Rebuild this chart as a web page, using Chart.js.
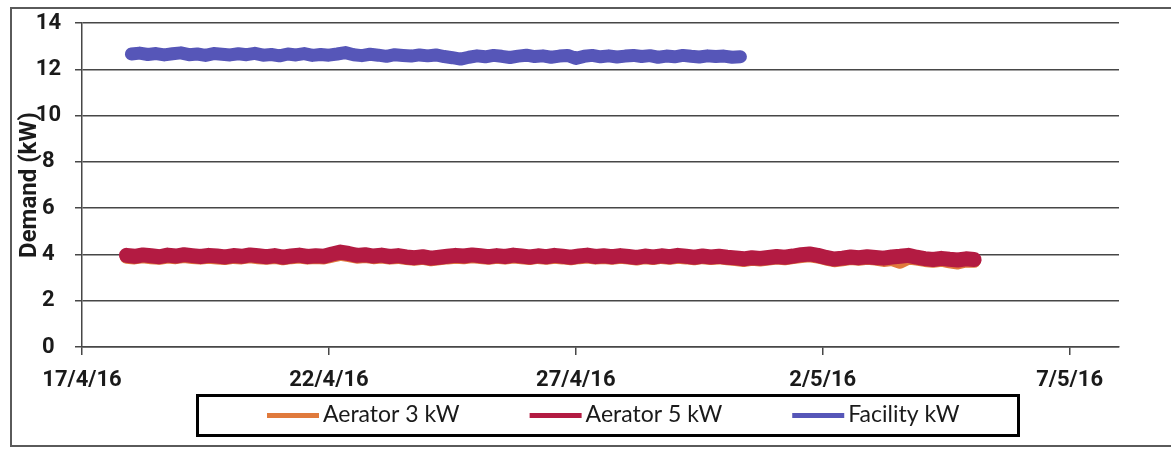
<!DOCTYPE html>
<html>
<head>
<meta charset="utf-8">
<style>
  html, body { margin: 0; padding: 0; background: #ffffff; }
  #wrap { width: 1171px; height: 450px; }
</style>
<script src="https://cdn.jsdelivr.net/npm/chart.js@4.4.1/dist/chart.umd.min.js"></script>
</head>
<body>
<div id="wrap"><canvas id="demand" width="1171" height="450"></canvas></div>
<script>
// Date axis: days counted from 17/4/16, major tick every 5 days
const AXIS_MIN_DAY = 0;
const AXIS_MAX_DAY = 21;
const tickDays = [0, 5, 10, 15, 20];
const tickLabels = ['17/4/16', '22/4/16', '27/4/16', '2/5/16', '7/5/16'];

// Samples every 4 hours (1/6 day)
const SAMPLE_STEP = 1 / 6;
const aeratorStartDay = 0.9;
const facilityStartDay = 1.0;

const aerator3kW = [
  3.88, 3.85, 3.90, 3.86, 3.83, 3.89, 3.86, 3.91, 3.87, 3.84, 3.88, 3.85,
  3.82, 3.87, 3.85, 3.90, 3.86, 3.83, 3.87, 3.81, 3.86, 3.89, 3.84, 3.87,
  3.85, 3.93, 4.00, 3.95, 3.88, 3.91, 3.86, 3.89, 3.84, 3.87, 3.82, 3.79,
  3.83, 3.77, 3.81, 3.85, 3.88, 3.86, 3.90, 3.87, 3.83, 3.88, 3.84, 3.89,
  3.86, 3.82, 3.87, 3.83, 3.88, 3.85, 3.81, 3.86, 3.89, 3.84, 3.87, 3.83,
  3.88, 3.84, 3.80, 3.86, 3.82, 3.87, 3.83, 3.88, 3.85, 3.81, 3.86, 3.82,
  3.85, 3.81, 3.78, 3.74, 3.79, 3.76, 3.80, 3.84, 3.81, 3.86, 3.91, 3.94,
  3.89, 3.80, 3.73, 3.77, 3.82, 3.79, 3.83, 3.80, 3.74, 3.78, 3.66, 3.84,
  3.80, 3.74, 3.70, 3.75, 3.68, 3.63, 3.72, 3.70
];

const aerator5kW = [
  3.96, 3.92, 3.98, 3.94, 3.90, 3.97, 3.93, 3.99, 3.95, 3.91, 3.96, 3.93,
  3.89, 3.95, 3.92, 3.98, 3.94, 3.90, 3.95, 3.88, 3.93, 3.97, 3.91, 3.94,
  3.92, 4.02, 4.10, 4.04, 3.96, 3.99, 3.93, 3.97, 3.91, 3.95, 3.89, 3.86,
  3.90, 3.84, 3.88, 3.92, 3.96, 3.93, 3.98, 3.94, 3.90, 3.95, 3.91, 3.97,
  3.93, 3.89, 3.94, 3.90, 3.96, 3.92, 3.88, 3.93, 3.97, 3.91, 3.94, 3.90,
  3.95, 3.91, 3.87, 3.93, 3.89, 3.94, 3.90, 3.96, 3.92, 3.88, 3.93, 3.89,
  3.92, 3.88, 3.85, 3.81, 3.86, 3.83, 3.87, 3.91, 3.88, 3.93, 3.99, 4.02,
  3.96, 3.87, 3.80, 3.84, 3.89, 3.86, 3.90, 3.87, 3.84, 3.89, 3.92, 3.96,
  3.88, 3.82, 3.78, 3.83, 3.79, 3.76, 3.81, 3.78
];

const facilityKW = [
  12.66, 12.70, 12.64, 12.68, 12.62, 12.67, 12.71, 12.63, 12.66, 12.60, 12.68, 12.65,
  12.62, 12.67, 12.63, 12.69, 12.61, 12.64, 12.58, 12.66, 12.62, 12.68, 12.60, 12.64,
  12.61, 12.66, 12.72, 12.63, 12.59, 12.65, 12.61, 12.56, 12.63, 12.60, 12.57, 12.62,
  12.58, 12.62, 12.55, 12.50, 12.44, 12.52, 12.58, 12.54, 12.60, 12.56, 12.51, 12.57,
  12.61, 12.55, 12.58, 12.52, 12.57, 12.60, 12.47, 12.56, 12.60, 12.54, 12.58, 12.53,
  12.57, 12.60, 12.55, 12.59, 12.52, 12.57, 12.54, 12.60, 12.56, 12.53, 12.58, 12.55,
  12.57, 12.52, 12.54
];

const seriesNames = ['Aerator 3 kW', 'Aerator 5 kW', 'Facility kW'];
const seriesColors = ['#e07a3c', '#b31b42', '#5656b8'];

function toPoints(values, startDay) {
  return values.map((v, i) => ({ x: startDay + i * SAMPLE_STEP, y: v }));
}

const INK = '#1a1a1a';
const GRID = '#474747';
const AXIS_FONT = { family: 'Roboto', size: 22, weight: 'bold' };

// Chart frame around the whole drawing
const framePlugin = {
  id: 'frame',
  beforeDraw(chart) {
    const c = chart.ctx;
    c.save();
    c.fillStyle = '#ffffff';
    c.fillRect(0, 0, chart.width, chart.height);
    c.strokeStyle = '#5a5a5a';
    c.lineWidth = 2;
    c.strokeRect(11, 8, chart.width + 10, 438);
    c.restore();
  }
};

// Boxed legend below the axis
const boxedLegend = {
  id: 'boxedLegend',
  afterDraw(chart) {
    const c = chart.ctx;
    c.save();
    c.lineWidth = 3;
    c.strokeStyle = '#000000';
    c.strokeRect(197.5, 395.5, 821, 40);
    c.font = '23px Lato';
    c.textBaseline = 'middle';
    c.textAlign = 'left';
    const cy = 415;
    let x = 267;
    chart.data.datasets.forEach((ds) => {
      c.strokeStyle = ds.borderColor;
      c.lineWidth = 5;
      c.lineCap = 'butt';
      c.beginPath();
      c.moveTo(x, cy + 0.5);
      c.lineTo(x + 52, cy + 0.5);
      c.stroke();
      c.fillStyle = INK;
      c.fillText(ds.label, x + 56, cy);
      x += 56 + c.measureText(ds.label).width + 70;
    });
    c.restore();
  }
};

new Chart(document.getElementById('demand'), {
  type: 'line',
  data: {
    datasets: [
      {
        label: seriesNames[0],
        data: toPoints(aerator3kW, aeratorStartDay),
        borderColor: seriesColors[0],
        borderWidth: 13,
        order: 2
      },
      {
        label: seriesNames[1],
        data: toPoints(aerator5kW, aeratorStartDay),
        borderColor: seriesColors[1],
        borderWidth: 15,
        order: 1
      },
      {
        label: seriesNames[2],
        data: toPoints(facilityKW, facilityStartDay),
        borderColor: seriesColors[2],
        borderWidth: 13,
        order: 0
      }
    ]
  },
  options: {
    responsive: false,
    animation: false,
    devicePixelRatio: 1,
    layout: { padding: { left: 12, right: 52, top: 23, bottom: 0 } },
    elements: {
      point: { radius: 0, hoverRadius: 0 },
      line: { tension: 0, borderCapStyle: 'round', borderJoinStyle: 'round', fill: false }
    },
    plugins: {
      legend: { display: false },
      tooltip: { enabled: false }
    },
    scales: {
      x: {
        type: 'linear',
        min: AXIS_MIN_DAY,
        max: AXIS_MAX_DAY,
        afterBuildTicks: (scale) => { scale.ticks = tickDays.map((d) => ({ value: d })); },
        afterFit: (scale) => { scale.height = 103; },
        grid: { drawOnChartArea: false, drawTicks: true, tickLength: 8, color: GRID, lineWidth: 1.5 },
        border: { display: true, color: GRID, width: 1.5 },
        ticks: {
          autoSkip: false,
          maxRotation: 0,
          padding: 12,
          color: INK,
          font: AXIS_FONT,
          callback: (value) => tickLabels[tickDays.indexOf(value)]
        }
      },
      y: {
        min: 0,
        max: 14,
        afterFit: (scale) => {
          scale.width = 70;
          scale.paddingTop = 4;
          scale.paddingBottom = 4;
        },
        grid: { drawTicks: true, tickLength: 7, color: GRID, lineWidth: 1.5 },
        border: { display: true, color: GRID, width: 1.5 },
        ticks: {
          stepSize: 2,
          crossAlign: 'center',
          padding: 14,
          color: INK,
          font: AXIS_FONT
        },
        title: {
          display: true,
          text: 'Demand (kW)',
          color: INK,
          font: { family: 'Roboto', size: 24, weight: 'bold' },
          padding: { top: 4, bottom: 0 }
        }
      }
    }
  },
  plugins: [framePlugin, boxedLegend]
});
</script>
</body>
</html>
